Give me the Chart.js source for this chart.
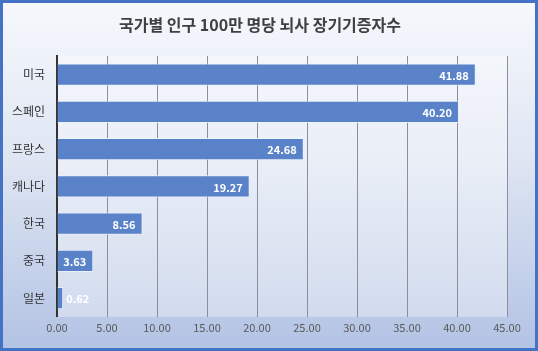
<!DOCTYPE html>
<html>
<head>
<meta charset="utf-8">
<script src="https://cdn.jsdelivr.net/npm/chart.js@4/dist/chart.umd.min.js"></script>
<style>
  html, body { margin: 0; padding: 0; }
  #wrap {
    width: 538px; height: 351px; box-sizing: border-box;
    border: 3px solid #4472c4;
    background: linear-gradient(to bottom, #f6f8fc 0%, #dfe6f3 45%, #b3c3e4 100%);
  }
</style>
</head>
<body>
<div id="wrap"><canvas id="myChart"></canvas></div>
<script>
var countries = ["미국", "스페인", "프랑스", "캐나다", "한국", "중국", "일본"];
var donors = [41.88, 40.20, 24.68, 19.27, 8.56, 3.63, 0.62];
var titleText = "국가별 인구 100만 명당 뇌사 장기기증자수";

// light panel behind the plot + the title (drawn by hand so it sits centred on the frame)
var plotBg = {
  id: "plotBg",
  beforeDraw: function (chart) {
    var a = chart.chartArea, c = chart.ctx;
    c.save();
    c.fillStyle = "rgba(255,255,255,0.35)";
    c.fillRect(a.left, a.top, a.right - a.left, a.bottom - a.top);
    c.font = "bold 16px 'Noto Sans CJK KR', sans-serif";
    c.fillStyle = "#404040";
    c.textAlign = "center";
    c.textBaseline = "middle";
    c.fillText(titleText, 257, 22);
    c.restore();
  }
};

// value labels at the end of each bar
var barLabels = {
  id: "barLabels",
  afterDatasetsDraw: function (chart) {
    var c = chart.ctx;
    var meta = chart.getDatasetMeta(0);
    c.save();
    c.font = "bold 11px 'Noto Sans CJK KR', sans-serif";
    c.fillStyle = "#ffffff";
    c.textBaseline = "middle";
    meta.data.forEach(function (bar, i) {
      var txt = donors[i].toFixed(2);
      var w = c.measureText(txt).width;
      if (bar.x - bar.base > w + 12) {
        c.textAlign = "right";
        c.fillText(txt, bar.x - 7, bar.y + 1);
      } else {
        c.textAlign = "left";
        c.fillText(txt, bar.x + 3, bar.y + 1);
      }
    });
    c.restore();
  }
};

new Chart(document.getElementById("myChart"), {
  type: "bar",
  data: {
    labels: countries,
    datasets: [{
      data: donors,
      backgroundColor: "#5a82c8",
      borderColor: "rgba(235,241,250,0.9)",
      borderWidth: 1,
      borderSkipped: "left",
      barPercentage: 0.6,
      categoryPercentage: 1.0
    }]
  },
  options: {
    indexAxis: "y",
    responsive: true,
    maintainAspectRatio: false,
    animation: false,
    layout: { padding: { left: 0, right: 28, top: 53, bottom: 10 } },
    plugins: {
      legend: { display: false },
      tooltip: { enabled: false },
      title: { display: false }
    },
    scales: {
      x: {
        min: 0, max: 45,
        ticks: {
          stepSize: 5,
          color: "#595959",
          padding: 4,
          font: { family: "'Noto Sans CJK KR', sans-serif", size: 11 },
          callback: function (v) { return Number(v).toFixed(2); }
        },
        grid: { color: "#8a8f99", lineWidth: 1, drawTicks: false },
        border: { display: false }
      },
      y: {
        afterFit: function (axis) { axis.width = 54; },
        ticks: {
          color: "#333333",
          padding: 12,
          font: { family: "'Noto Sans CJK KR', sans-serif", size: 12 }
        },
        grid: { display: false, drawTicks: false },
        border: { display: true, color: "#333333", width: 2 }
      }
    }
  },
  plugins: [plotBg, barLabels]
});
</script>
</body>
</html>
